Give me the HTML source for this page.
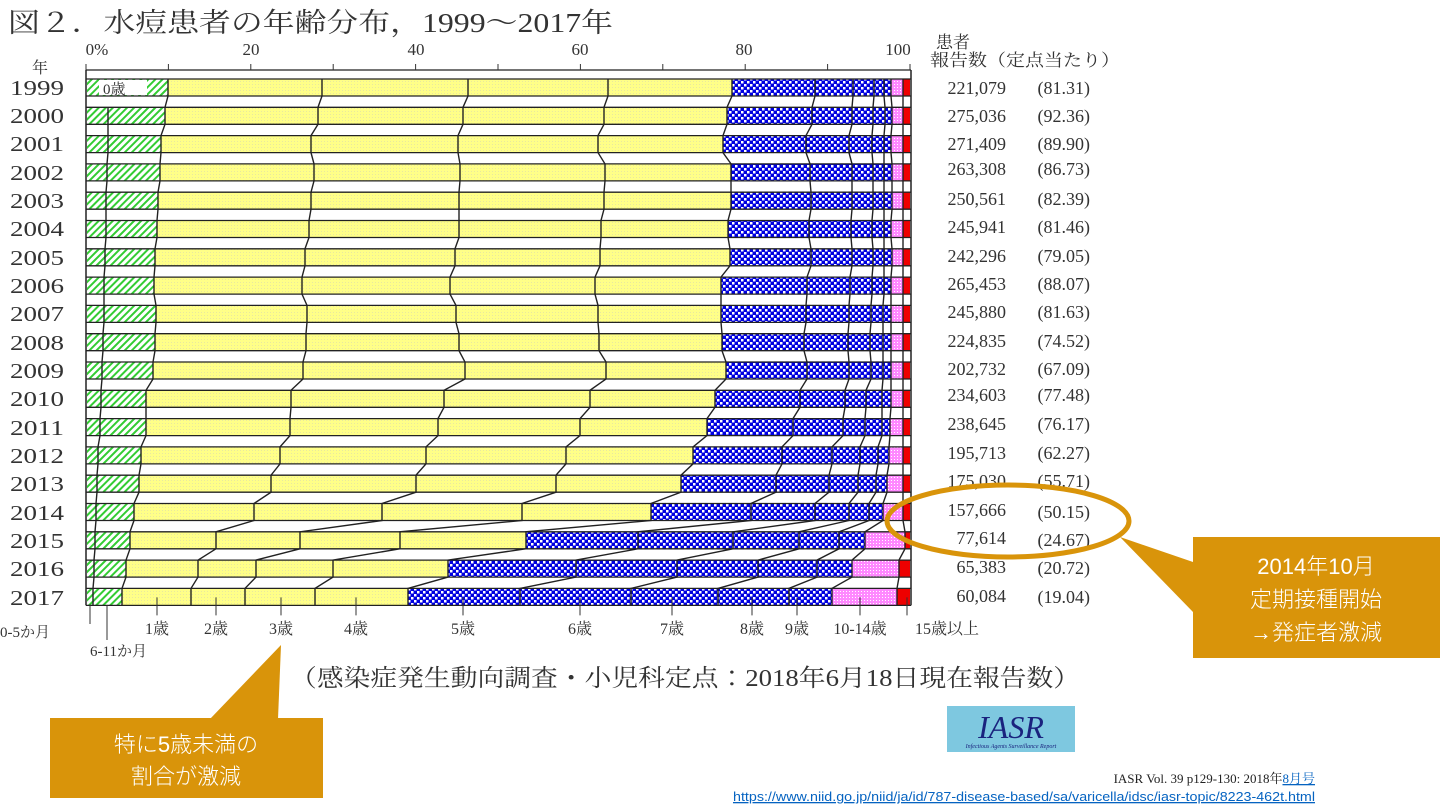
<!DOCTYPE html>
<html><head><meta charset="utf-8"><style>
html,body{margin:0;padding:0;background:#fff;}
svg{display:block;}
.s{font-family:"Liberation Serif","Noto Serif CJK JP",serif;fill:#333;}
.c{font-family:"Liberation Sans","Noto Sans CJK JP",sans-serif;fill:#fff;font-weight:300;}
</style></head><body>
<svg id="v" width="1440" height="810" viewBox="0 0 1440 810" xmlns="http://www.w3.org/2000/svg">
<defs>
<pattern id="pg" width="5" height="5" patternUnits="userSpaceOnUse" patternTransform="rotate(45)">
<rect width="5" height="5" fill="#fff"/><rect width="2" height="5" fill="#33cc33"/></pattern>
<pattern id="py" width="3" height="3" patternUnits="userSpaceOnUse">
<rect width="3" height="3" fill="#ffff88"/><rect width="1" height="1" fill="#e8e8a0"/></pattern>
<pattern id="pb" width="6" height="6" patternUnits="userSpaceOnUse">
<rect width="6" height="6" fill="#0000e0"/><rect x="0" y="0" width="2.5" height="2.5" fill="#fff"/><rect x="3" y="3" width="2.5" height="2.5" fill="#fff"/></pattern>
<pattern id="pp" width="3" height="3" patternUnits="userSpaceOnUse">
<rect width="3" height="3" fill="#ff88ff"/><rect width="1" height="1" fill="#fff"/></pattern>
</defs>
<g id="bars"></g>

<text class="s" x="8" y="32" font-size="27" textLength="605" lengthAdjust="spacingAndGlyphs">図２．水痘患者の年齢分布，1999～2017年</text>
<g class="s" font-size="17" text-anchor="middle">
<text x="97" y="55">0%</text><text x="251" y="55">20</text><text x="416" y="55">40</text><text x="580" y="55">60</text><text x="744" y="55">80</text><text x="898" y="55">100</text>
</g>
<text class="s" x="32" y="73" font-size="16">年</text>
<text class="s" x="936" y="48" font-size="17">患者</text>
<text class="s" x="930" y="66" font-size="17" textLength="190" lengthAdjust="spacingAndGlyphs">報告数（定点当たり）</text>

<g class="s" font-size="21">
<text x="10" y="95" textLength="54" lengthAdjust="spacingAndGlyphs">1999</text>
<text x="10" y="123" textLength="54" lengthAdjust="spacingAndGlyphs">2000</text>
<text x="10" y="151" textLength="54" lengthAdjust="spacingAndGlyphs">2001</text>
<text x="10" y="180" textLength="54" lengthAdjust="spacingAndGlyphs">2002</text>
<text x="10" y="208" textLength="54" lengthAdjust="spacingAndGlyphs">2003</text>
<text x="10" y="236" textLength="54" lengthAdjust="spacingAndGlyphs">2004</text>
<text x="10" y="265" textLength="54" lengthAdjust="spacingAndGlyphs">2005</text>
<text x="10" y="293" textLength="54" lengthAdjust="spacingAndGlyphs">2006</text>
<text x="10" y="321" textLength="54" lengthAdjust="spacingAndGlyphs">2007</text>
<text x="10" y="350" textLength="54" lengthAdjust="spacingAndGlyphs">2008</text>
<text x="10" y="378" textLength="54" lengthAdjust="spacingAndGlyphs">2009</text>
<text x="10" y="406" textLength="54" lengthAdjust="spacingAndGlyphs">2010</text>
<text x="10" y="435" textLength="54" lengthAdjust="spacingAndGlyphs">2011</text>
<text x="10" y="463" textLength="54" lengthAdjust="spacingAndGlyphs">2012</text>
<text x="10" y="491" textLength="54" lengthAdjust="spacingAndGlyphs">2013</text>
<text x="10" y="520" textLength="54" lengthAdjust="spacingAndGlyphs">2014</text>
<text x="10" y="548" textLength="54" lengthAdjust="spacingAndGlyphs">2015</text>
<text x="10" y="576" textLength="54" lengthAdjust="spacingAndGlyphs">2016</text>
<text x="10" y="605" textLength="54" lengthAdjust="spacingAndGlyphs">2017</text>
</g>
<g class="s" font-size="18" text-anchor="end">
<text x="1006" y="94">221,079</text><text x="1090" y="94">(81.31)</text>
<text x="1006" y="122">275,036</text><text x="1090" y="122">(92.36)</text>
<text x="1006" y="150">271,409</text><text x="1090" y="150">(89.90)</text>
<text x="1006" y="175">263,308</text><text x="1090" y="175">(86.73)</text>
<text x="1006" y="205">250,561</text><text x="1090" y="205">(82.39)</text>
<text x="1006" y="233">245,941</text><text x="1090" y="233">(81.46)</text>
<text x="1006" y="262">242,296</text><text x="1090" y="262">(79.05)</text>
<text x="1006" y="290">265,453</text><text x="1090" y="290">(88.07)</text>
<text x="1006" y="318">245,880</text><text x="1090" y="318">(81.63)</text>
<text x="1006" y="347">224,835</text><text x="1090" y="347">(74.52)</text>
<text x="1006" y="375">202,732</text><text x="1090" y="375">(67.09)</text>
<text x="1006" y="401">234,603</text><text x="1090" y="401">(77.48)</text>
<text x="1006" y="430">238,645</text><text x="1090" y="430">(76.17)</text>
<text x="1006" y="459">195,713</text><text x="1090" y="459">(62.27)</text>
<text x="1006" y="487">175,030</text><text x="1090" y="487">(55.71)</text>
<text x="1006" y="516">157,666</text><text x="1090" y="518">(50.15)</text>
<text x="1006" y="544">77,614</text><text x="1090" y="546">(24.67)</text>
<text x="1006" y="573">65,383</text><text x="1090" y="574">(20.72)</text>
<text x="1006" y="602">60,084</text><text x="1090" y="603">(19.04)</text>
</g>

<g class="s" font-size="16" text-anchor="middle">
<text x="157" y="634">1歳</text><text x="216" y="634">2歳</text><text x="281" y="634">3歳</text><text x="356" y="634">4歳</text>
<text x="463" y="634">5歳</text><text x="580" y="634">6歳</text><text x="672" y="634">7歳</text><text x="752" y="634">8歳</text>
<text x="797" y="634">9歳</text><text x="860" y="634">10-14歳</text><text x="947" y="634">15歳以上</text>
</g>
<text class="s" x="0" y="637" font-size="15">0-5か月</text>
<text class="s" x="90" y="656" font-size="15">6-11か月</text>
<text class="s" x="290" y="686" font-size="24" textLength="790" lengthAdjust="spacingAndGlyphs">（感染症発生動向調査・小児科定点：2018年6月18日現在報告数）</text>

<rect x="947" y="706" width="128" height="46" fill="#7ec8e0"/>
<text x="1011" y="738" font-family="Liberation Serif,serif" font-style="italic" font-size="32" fill="#1a237e" text-anchor="middle">IASR</text>
<text x="1011" y="748" font-family="Liberation Serif,serif" font-style="italic" font-size="6" fill="#1a237e" text-anchor="middle">Infectious Agents Surveillance Report</text>
<text x="1315" y="783" font-family="Liberation Serif,'Noto Serif CJK JP',serif" font-size="13" fill="#222" text-anchor="end">IASR Vol. 39 p129-130: 2018年<tspan fill="#0563c1" text-decoration="underline">8月号</tspan></text>
<text x="733" y="801" font-family="Liberation Sans,sans-serif" font-size="13" fill="#0563c1" text-decoration="underline" textLength="582" lengthAdjust="spacingAndGlyphs">https://www.niid.go.jp/niid/ja/id/787-disease-based/sa/varicella/idsc/iasr-topic/8223-462t.html</text>

<ellipse cx="1008" cy="521" rx="121" ry="36" fill="none" stroke="#d9940a" stroke-width="5"/>
<polygon points="1193,562 1193,612 1120,537" fill="#d9940a"/>
<rect x="1193" y="537" width="247" height="121" fill="#d9940a"/>
<g class="c" font-size="22" text-anchor="middle">
<text x="1316" y="574">2014年10月</text><text x="1316" y="607">定期接種開始</text><text x="1316" y="640">→発症者激減</text>
</g>
<polygon points="210,719 278,719 281,645" fill="#d9940a"/>
<rect x="50" y="718" width="273" height="80" fill="#d9940a"/>
<g class="c" font-size="22" text-anchor="middle">
<text x="186" y="752">特に5歳未満の</text><text x="186" y="784">割合が激減</text>
</g>
<g id="lbl"></g>
</svg>
<script>
(function(){
var D=[
[100,168,322,468,608,732,815,853,874,884,891,903],
[108,165,318,463,604,727,812,852,873,885,892,903],
[108,161,311,458,598,723,806,849,872,884,891,903],
[107,160,314,460,605,731,810,852,873,884,892,903],
[106,158,311,459,604,731,811,852,873,884,892,903],
[106,157,309,459,601,728,809,851,872,884,891,903],
[105,155,305,455,600,730,811,852,873,884,892,903],
[104,154,302,450,595,721,807,850,872,884,891,903],
[104,156,307,456,598,721,806,849,871,883,891,903],
[103,155,306,459,599,722,804,848,870,883,891,903],
[102,153,303,465,606,726,807,849,871,883,891,903],
[101,146,291,444,590,715,800,845,866,882,891,903],
[100,146,290,438,580,707,793,843,865,882,890,903],
[98,141,280,426,566,693,782,832,860,878,889,903],
[97,139,271,416,556,681,776,829,858,876,887,903],
[96,134,254,382,522,651,751,815,849,869,883,903],
[95,130,216,300,400,526,638,733,799,839,865,905],
[94,126,198,256,333,448,576,677,758,817,852,899],
[93,122,191,245,315,408,520,631,718,789,832,897]];
var F=['url(#pg)','url(#pg)','url(#py)','url(#py)','url(#py)','url(#py)','url(#pb)','url(#pb)','url(#pb)','url(#pb)','url(#pb)','url(#pp)','#ee0000'];
var L=87,R=910,H=17,s='';
function rt(r){return 79+r*28.3;}
for(var r=0;r<19;r++){var t=rt(r),b=[L].concat(D[r],[R]);
 for(var k=0;k<13;k++){s+='<rect x="'+b[k]+'" y="'+t+'" width="'+(b[k+1]-b[k])+'" height="'+H+'" fill="'+F[k]+'"/>';}
 s+='<line x1="86" x2="911" y1="'+t+'" y2="'+t+'" stroke="#222" stroke-width="1.3"/>';
 s+='<line x1="86" x2="911" y1="'+(t+H)+'" y2="'+(t+H)+'" stroke="#222" stroke-width="1.3"/>';}
s+='<rect x="99" y="80" width="48" height="15" fill="#fff"/>';
for(var k=1;k<12;k++){var p=[];for(var r=0;r<19;r++){var t=rt(r);p.push(D[r][k]+','+t,D[r][k]+','+(t+H));}
 s+='<polyline points="'+p.join(' ')+'" fill="none" stroke="#222" stroke-width="1.4"/>';}
var p=[];for(var r=1;r<19;r++){var t=rt(r);p.push(D[r][0]+','+t,D[r][0]+','+(t+H));}
s+='<polyline points="'+p.join(' ')+'" fill="none" stroke="#222" stroke-width="1.4"/>';
s+='<line x1="86" x2="86" y1="70" y2="'+(rt(18)+H)+'" stroke="#222" stroke-width="1.5"/>';
s+='<line x1="911" x2="911" y1="70" y2="'+(rt(18)+H)+'" stroke="#222" stroke-width="1.5"/>';
s+='<line x1="86" x2="911" y1="70" y2="70" stroke="#222" stroke-width="1.3"/>';
for(var i=0;i<=10;i++){var x=86+i*82.4;s+='<line x1="'+x+'" x2="'+x+'" y1="64" y2="70" stroke="#333"/>';}
var tk=[157,216,281,356,463,580,672,752,797,860,907];var yb=rt(18)+H;
tk.forEach(function(x){s+='<line x1="'+x+'" x2="'+x+'" y1="'+(yb-8)+'" y2="'+(yb+10)+'" stroke="#333"/>';});
s+='<line x1="90" x2="90" y1="'+yb+'" y2="624" stroke="#333"/><line x1="107" x2="107" y1="'+yb+'" y2="640" stroke="#333"/>';
document.getElementById('bars').innerHTML=s;
document.getElementById('lbl').innerHTML='<text class="s" x="103" y="94" font-size="15">0歳</text>';
})();
</script>
</body></html>
